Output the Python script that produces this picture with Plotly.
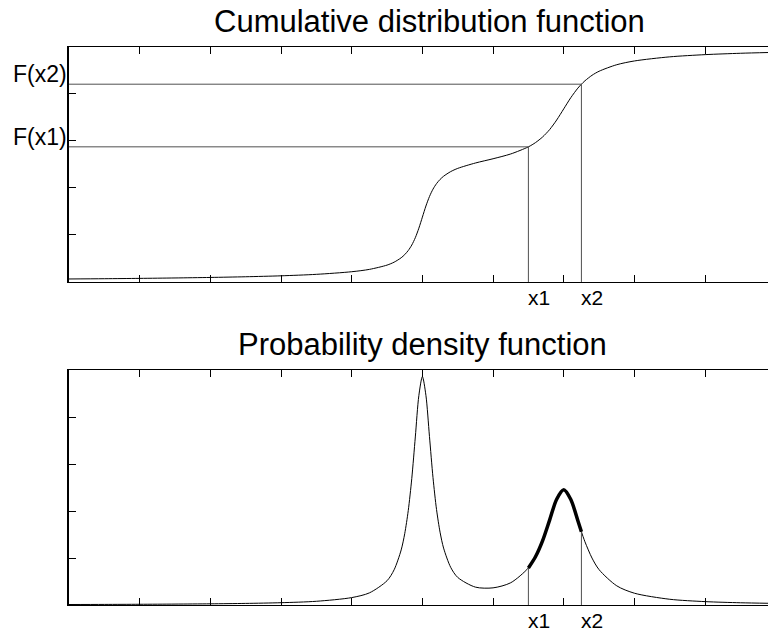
import plotly.graph_objects as go

# Sample points (x in data units 0..~9.9)
x_vals = [0, 0.5, 1, 1.5, 2, 2.5, 3, 3.5, 4, 4.25, 4.5, 4.6, 4.7, 4.75, 4.8, 4.85, 4.9, 4.95,
          5.0, 5.05, 5.1, 5.15, 5.2, 5.25, 5.3, 5.4, 5.5, 5.75, 6.0, 6.25, 6.5, 6.6, 6.7, 6.8,
          6.9, 7.0, 7.1, 7.2, 7.25, 7.3, 7.4, 7.5, 7.75, 8.0, 8.5, 9.0, 9.5, 9.9]
cdf_vals = [0.0128, 0.0139, 0.0153, 0.0171, 0.0193, 0.0222, 0.0262, 0.0325, 0.0436, 0.0536,
            0.0718, 0.0843, 0.1031, 0.1164, 0.1339, 0.1572, 0.1884, 0.2288,
            0.2760, 0.3232, 0.3636, 0.3950, 0.4185, 0.4363, 0.4500, 0.4697, 0.4834, 0.5063,
            0.5244, 0.5448, 0.5751, 0.5931, 0.6168, 0.6484, 0.6892, 0.7368, 0.7844, 0.8250,
            0.8417, 0.8562, 0.8795, 0.8968, 0.9246, 0.9406, 0.9581, 0.9675, 0.9733, 0.9766]
pdf_vals = [0.0021, 0.0025, 0.0031, 0.0039, 0.0050, 0.0068, 0.0098, 0.0158, 0.0315, 0.0516,
            0.1034, 0.1498, 0.2344, 0.3035, 0.4017, 0.5389, 0.7151, 0.8912,
            0.9715, 0.8924, 0.7176, 0.5426, 0.4067, 0.3099, 0.2422, 0.1605, 0.1174, 0.0761,
            0.0730, 0.0947, 0.1578, 0.2054, 0.2732, 0.3613, 0.4501, 0.4903, 0.4488, 0.3587,
            0.3119, 0.2691, 0.1998, 0.1504, 0.0816, 0.0502, 0.0244, 0.0144, 0.0095, 0.0073]

x1 = 6.5
x2 = 7.25
x_labels = ["x1", "x2"]
f_labels = ["F(x1)", "F(x2)"]
titles = ["Cumulative distribution function", "Probability density function"]

i1 = x_vals.index(x1)
i2 = x_vals.index(x2)
F1, F2 = cdf_vals[i1], cdf_vals[i2]
p1, p2 = pdf_vals[i1], pdf_vals[i2]

guide = dict(color="rgb(80,80,80)", width=1)
curve = dict(color="black", width=1, shape="spline", smoothing=0.8)

fig = go.Figure()
# CDF (top)
fig.add_trace(go.Scatter(x=x_vals, y=cdf_vals, mode="lines", line=curve, xaxis="x", yaxis="y"))
fig.add_trace(go.Scatter(x=[0, x1, x1], y=[F1, F1, 0], mode="lines", line=guide, xaxis="x", yaxis="y"))
fig.add_trace(go.Scatter(x=[0, x2, x2], y=[F2, F2, 0], mode="lines", line=guide, xaxis="x", yaxis="y"))
# PDF (bottom)
fig.add_trace(go.Scatter(x=x_vals, y=pdf_vals, mode="lines", line=curve, xaxis="x2", yaxis="y2"))
fig.add_trace(go.Scatter(x=[x1, x1], y=[0, p1], mode="lines", line=guide, xaxis="x2", yaxis="y2"))
fig.add_trace(go.Scatter(x=[x2, x2], y=[0, p2], mode="lines", line=guide, xaxis="x2", yaxis="y2"))
seg_x = [x for x in x_vals if x1 <= x <= x2]
seg_y = [pdf_vals[x_vals.index(x)] for x in seg_x]
fig.add_trace(go.Scatter(x=seg_x, y=seg_y, mode="lines",
                         line=dict(color="black", width=3.5, shape="spline", smoothing=0.8),
                         xaxis="x2", yaxis="y2"))

xax = dict(range=[0, 9.89], dtick=1, tick0=0, ticks="inside", ticklen=7, tickcolor="black",
           showticklabels=False, showline=True, linecolor="black", linewidth=1,
           mirror="ticks", showgrid=False, zeroline=False)
yax = dict(range=[0, 1], dtick=0.2, tick0=0, ticks="inside", ticklen=7, tickcolor="black",
           showticklabels=False, showline=True, linecolor="black", linewidth=2,
           mirror=False, showgrid=False, zeroline=False)

top_dom = [0.5789, 1.0]
bot_dom = [0.0, 0.4211]

ann = []
font_s = dict(family="Liberation Sans, Arial, sans-serif", size=21, color="black")
font_f = dict(family="Liberation Sans, Arial, sans-serif", size=23, color="black")
font_t = dict(family="Liberation Sans, Arial, sans-serif", size=31, color="black")
ann.append(dict(text=titles[0], xref="paper", yref="paper", x=0.5157, y=top_dom[1],
                xanchor="center", yanchor="bottom", yshift=6, showarrow=False, font=font_t))
ann.append(dict(text=titles[1], xref="paper", yref="paper", x=0.5057, y=bot_dom[1],
                xanchor="center", yanchor="bottom", yshift=6, showarrow=False, font=font_t))
for lab, F in zip(f_labels, [F1, F2]):
    ann.append(dict(text=lab, xref="paper", yref="y", x=0, y=F, xanchor="right", yanchor="bottom",
                    xshift=-1, yshift=-4, showarrow=False, font=font_f, borderpad=0))
for lab, xv in zip(x_labels, [x1, x2]):
    ann.append(dict(text=lab, xref="x", yref="y", x=xv, y=0, xanchor="left", yanchor="top",
                    xshift=-1, yshift=-3, showarrow=False, font=font_s, borderpad=0))
    ann.append(dict(text=lab, xref="x2", yref="y2", x=xv, y=0, xanchor="left", yanchor="top",
                    xshift=-1, yshift=-3, showarrow=False, font=font_s, borderpad=0))

fig.update_layout(
    width=768, height=634,
    margin=dict(l=69, r=0, t=47, b=29),
    paper_bgcolor="white", plot_bgcolor="white",
    showlegend=False,
    xaxis=dict(domain=[0, 1], anchor="y", **xax),
    yaxis=dict(domain=top_dom, anchor="x", **yax),
    xaxis2=dict(domain=[0, 1], anchor="y2", **xax),
    yaxis2=dict(domain=bot_dom, anchor="x2", **yax),
    annotations=ann,
    font=font_s,
)

fig.write_html("out.html")
